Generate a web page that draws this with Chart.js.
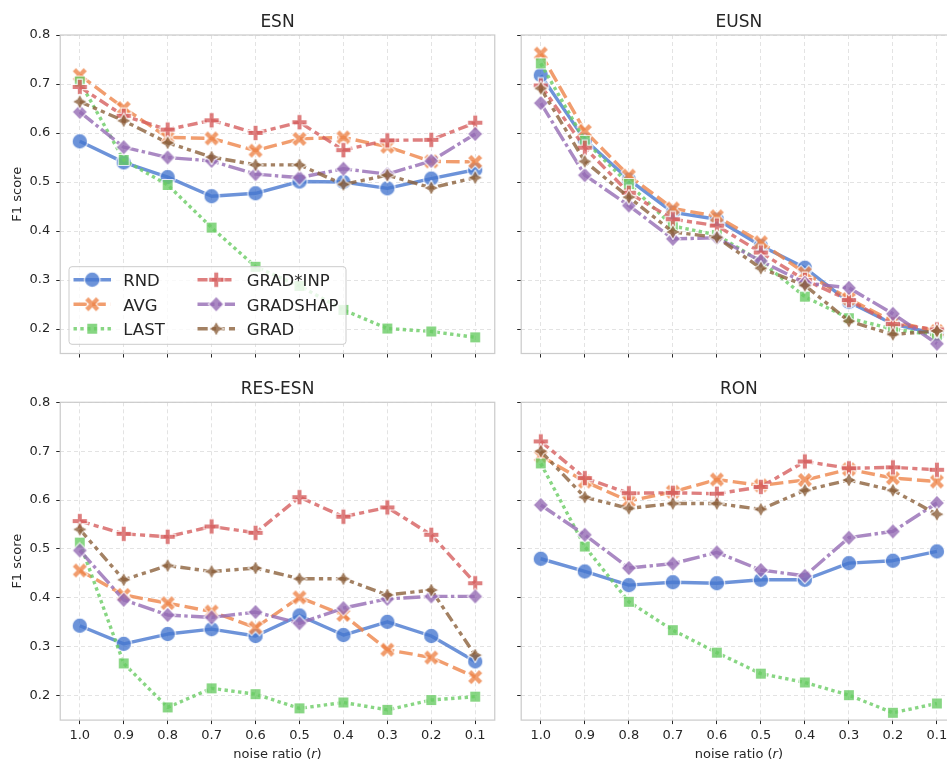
<!DOCTYPE html>
<html><head><meta charset="utf-8">
<script src="https://cdn.jsdelivr.net/npm/chart.js@4.4.1/dist/chart.umd.min.js"></script>
<style>
html,body{margin:0;padding:0;background:#fff;overflow:hidden;}
#wrap{position:relative;width:947px;height:761px;overflow:hidden;background:#fff;}
canvas{position:absolute;}
</style></head><body><div id="wrap">
<canvas id="c0" width="510" height="380" style="left:0;top:0"></canvas>
<canvas id="c1" width="470" height="380" style="left:510px;top:0"></canvas>
<canvas id="c2" width="510" height="391" style="left:0;top:370px"></canvas>
<canvas id="c3" width="470" height="391" style="left:510px;top:370px"></canvas>
</div>
<script>
// ---------------- data ----------------
const noiseRatios = [1.0, 0.9, 0.8, 0.7, 0.6, 0.5, 0.4, 0.3, 0.2, 0.1];
const xTickValues = [1.0, 0.9, 0.8, 0.7, 0.6, 0.5, 0.4, 0.3, 0.2, 0.1];
const yTickValues = [0.2, 0.3, 0.4, 0.5, 0.6, 0.7, 0.8];
const methodNames = ['RND', 'AVG', 'LAST', 'GRAD*INP', 'GRADSHAP', 'GRAD'];
const panelTitles = ['ESN', 'EUSN', 'RES-ESN', 'RON'];

const esnRND      = [0.583, 0.540, 0.510, 0.471, 0.477, 0.501, 0.500, 0.487, 0.507, 0.525];
const esnAVG      = [0.718, 0.651, 0.591, 0.589, 0.564, 0.588, 0.591, 0.572, 0.542, 0.541];
const esnLAST     = [0.705, 0.545, 0.494, 0.407, 0.327, 0.288, 0.239, 0.201, 0.195, 0.183];
const esnGRADINP  = [0.694, 0.635, 0.607, 0.626, 0.600, 0.622, 0.565, 0.585, 0.586, 0.621];
const esnGRADSHAP = [0.643, 0.571, 0.550, 0.543, 0.516, 0.509, 0.527, 0.516, 0.543, 0.598];
const esnGRAD     = [0.664, 0.625, 0.580, 0.551, 0.535, 0.535, 0.495, 0.514, 0.488, 0.509];

const eusnRND      = [0.718, 0.586, 0.505, 0.438, 0.424, 0.370, 0.325, 0.255, 0.210, 0.190];
const eusnAVG      = [0.762, 0.604, 0.513, 0.446, 0.430, 0.377, 0.314, 0.262, 0.215, 0.196];
const eusnLAST     = [0.742, 0.584, 0.496, 0.410, 0.392, 0.338, 0.266, 0.222, 0.200, 0.187];
const eusnGRADINP  = [0.697, 0.570, 0.478, 0.424, 0.411, 0.356, 0.300, 0.259, 0.210, 0.199];
const eusnGRADSHAP = [0.661, 0.514, 0.452, 0.384, 0.386, 0.339, 0.294, 0.284, 0.231, 0.170];
const eusnGRAD     = [0.691, 0.542, 0.469, 0.398, 0.387, 0.324, 0.289, 0.216, 0.189, 0.196];

const resRND      = [0.343, 0.306, 0.326, 0.336, 0.322, 0.364, 0.324, 0.351, 0.322, 0.270];
const resAVG      = [0.456, 0.406, 0.389, 0.372, 0.339, 0.401, 0.365, 0.294, 0.278, 0.238];
const resLAST     = [0.513, 0.266, 0.176, 0.215, 0.203, 0.174, 0.186, 0.171, 0.191, 0.198];
const resGRADINP  = [0.557, 0.531, 0.525, 0.546, 0.533, 0.606, 0.566, 0.585, 0.529, 0.430];
const resGRADSHAP = [0.497, 0.396, 0.365, 0.360, 0.371, 0.348, 0.379, 0.398, 0.403, 0.403];
const resGRAD     = [0.540, 0.437, 0.466, 0.454, 0.461, 0.439, 0.439, 0.406, 0.416, 0.283];

const ronRND      = [0.480, 0.454, 0.426, 0.432, 0.430, 0.437, 0.437, 0.471, 0.476, 0.495];
const ronAVG      = [0.690, 0.638, 0.598, 0.617, 0.642, 0.630, 0.641, 0.663, 0.645, 0.638];
const ronLAST     = [0.675, 0.505, 0.392, 0.334, 0.288, 0.245, 0.227, 0.201, 0.165, 0.184];
const ronGRADINP  = [0.720, 0.645, 0.614, 0.615, 0.613, 0.627, 0.679, 0.665, 0.667, 0.662];
const ronGRADSHAP = [0.590, 0.529, 0.461, 0.470, 0.493, 0.457, 0.445, 0.523, 0.536, 0.594];
const ronGRAD     = [0.700, 0.606, 0.583, 0.593, 0.593, 0.581, 0.620, 0.641, 0.620, 0.571];

const panelSeries = [
  [esnRND, esnAVG, esnLAST, esnGRADINP, esnGRADSHAP, esnGRAD],
  [eusnRND, eusnAVG, eusnLAST, eusnGRADINP, eusnGRADSHAP, eusnGRAD],
  [resRND, resAVG, resLAST, resGRADINP, resGRADSHAP, resGRAD],
  [ronRND, ronAVG, ronLAST, ronGRADINP, ronGRADSHAP, ronGRAD]
];

// ---------------- styles ----------------
const FONT = '"DejaVu Sans", "Liberation Sans", sans-serif';
const TEXT = '#262626';
const LW = 3.4;
const rgb = [[72,120,208],[238,133,74],[106,204,100],[214,95,95],[149,108,180],[140,97,60]];
const dashUnits = [[], [4,1.5], [1,1], [3,1.25,1.5,1.25], [5,1,1,1], [3,1.25,1.25,1.25,1.25,1.25]];
const shapes = ['circle','x','square','plus','diamond','star'];
const col = (i,a) => `rgba(${rgb[i][0]},${rgb[i][1]},${rgb[i][2]},${a})`;

function makeMarker(shape, i) {
  const S = 24, c = S / 2, s = 7.8;
  const base = document.createElement('canvas'); base.width = base.height = S;
  const g = base.getContext('2d');
  g.beginPath();
  const poly = (pts, k) => { pts.forEach((p, j) => { const X = c + p[0]*k, Y = c + p[1]*k; j ? g.lineTo(X, Y) : g.moveTo(X, Y); }); g.closePath(); };
  if (shape === 'circle') g.arc(c, c, s, 0, Math.PI*2);
  else if (shape === 'x') poly([[-1,-2],[0,-1],[1,-2],[2,-1],[1,0],[2,1],[1,2],[0,1],[-1,2],[-2,1],[-1,0],[-2,-1]], s/2);
  else if (shape === 'plus') poly([[-1,-3],[1,-3],[1,-1],[3,-1],[3,1],[1,1],[1,3],[-1,3],[-1,1],[-3,1],[-3,-1],[-1,-1]], s/3);
  else if (shape === 'square') { const h = s/Math.SQRT2; poly([[-h,-h],[h,-h],[h,h],[-h,h]], 1); }
  else if (shape === 'diamond') poly([[0,-s],[s,0],[0,s],[-s,0]], 1);
  else if (shape === 'star') {
    const pts = [];
    for (let k = 0; k < 8; k++) { const r = k % 2 ? s/2 : s; const a = -Math.PI/2 + k*Math.PI/4; pts.push([r*Math.cos(a), r*Math.sin(a)]); }
    poly(pts, 1);
  }
  g.fillStyle = col(i, 1); g.fill();
  g.lineWidth = 1.2; g.strokeStyle = '#ffffff'; g.lineJoin = shape === 'star' ? 'bevel' : 'miter'; g.stroke();
  const out = document.createElement('canvas'); out.width = out.height = S;
  const o = out.getContext('2d'); o.globalAlpha = 0.8; o.drawImage(base, 0, 0);
  return out;
}
const markers = shapes.map((sh, i) => makeMarker(sh, i));

// ---------------- plugins ----------------
const overlayPlugin = {
  id: 'overlay',
  afterDatasetsDraw(chart, args, o) {
    const ctx = chart.ctx, ca = chart.chartArea;
    ctx.save();
    ctx.strokeStyle = '#cccccc'; ctx.lineWidth = 1.25; ctx.setLineDash([]);
    ctx.strokeRect(ca.left, ca.top, ca.right - ca.left, ca.bottom - ca.top);
    if (o.legend) {
      const bx = ca.left + 8.75, by = ca.bottom - 86.8, bw = 277, bh = 77.6, r = 3;
      ctx.beginPath();
      ctx.moveTo(bx + r, by); ctx.lineTo(bx + bw - r, by); ctx.arcTo(bx + bw, by, bx + bw, by + r, r);
      ctx.lineTo(bx + bw, by + bh - r); ctx.arcTo(bx + bw, by + bh, bx + bw - r, by + bh, r);
      ctx.lineTo(bx + r, by + bh); ctx.arcTo(bx, by + bh, bx, by + bh - r, r);
      ctx.lineTo(bx, by + r); ctx.arcTo(bx, by, bx + r, by, r); ctx.closePath();
      ctx.fillStyle = 'rgba(255,255,255,0.8)'; ctx.fill();
      ctx.strokeStyle = '#cccccc'; ctx.lineWidth = 1; ctx.stroke();
      ctx.font = '16.5px ' + FONT; ctx.fillStyle = TEXT; ctx.textAlign = 'left'; ctx.textBaseline = 'alphabetic';
      chart.data.datasets.forEach((ds, i) => {
        const colIdx = Math.floor(i / 3), row = i % 3;
        const hx = bx + 4.5 + colIdx * 124, cy = by + 13 + row * 24.5, hl = 37.5;
        ctx.save();
        ctx.strokeStyle = ds.borderColor; ctx.lineWidth = LW; ctx.lineCap = 'butt';
        ctx.setLineDash(ds.borderDash);
        ctx.beginPath(); ctx.moveTo(hx, cy); ctx.lineTo(hx + hl, cy); ctx.stroke();
        ctx.restore();
        const m = ds.pointStyle;
        ctx.drawImage(m, hx + hl/2 - m.width/2, cy - m.height/2);
        ctx.fillStyle = TEXT;
        ctx.fillText(ds.label, bx + 54.3 + colIdx * 123.4, cy + 6.3);
      });
    }
    ctx.restore();
  },
  afterDraw(chart, args, o) {
    const ctx = chart.ctx, ca = chart.chartArea;
    ctx.save();
    ctx.fillStyle = TEXT; ctx.setLineDash([]);
    ctx.font = '17px ' + FONT; ctx.textAlign = 'center'; ctx.textBaseline = 'alphabetic';
    ctx.fillText(o.title, (ca.left + ca.right) / 2, ca.top - o.titleGap);
    ctx.font = '13px ' + FONT;
    if (o.yLabel) {
      ctx.save();
      ctx.translate(21.2, (ca.top + ca.bottom) / 2);
      ctx.rotate(-Math.PI / 2);
      ctx.textAlign = 'center';
      ctx.fillText('F1 score', 0, 0);
      ctx.restore();
    }
    if (o.xLabel) {
      const p1 = 'noise ratio (', p2 = 'r', p3 = ')';
      ctx.font = '13px ' + FONT; const w1 = ctx.measureText(p1).width, w3 = ctx.measureText(p3).width;
      ctx.font = 'italic 13px ' + FONT; const w2 = ctx.measureText(p2).width;
      let x = (ca.left + ca.right) / 2 - (w1 + w2 + w3) / 2;
      ctx.textAlign = 'left';
      ctx.font = '13px ' + FONT; ctx.fillText(p1, x, o.xLabelY); x += w1;
      ctx.font = 'italic 13px ' + FONT; ctx.fillText(p2, x, o.xLabelY); x += w2;
      ctx.font = '13px ' + FONT; ctx.fillText(p3, x, o.xLabelY);
    }
    ctx.restore();
  }
};

// ---------------- charts ----------------
Chart.defaults.font.family = FONT;
Chart.defaults.color = TEXT;

const panelLayout = [
  {yW: 60.25, xH: 26.5, padTop: 35,   padRight: 510 - 494.75, showY: true,  showX: false, legend: true,  gap: 7.7, xLabel: false},
  {yW: 11.2,  xH: 26.5, padTop: 35,   padRight: 470 - 446.5,  showY: false, showX: false, legend: false, gap: 7.7, xLabel: false},
  {yW: 60.25, xH: 40.9, padTop: 32.3, padRight: 510 - 494.75, showY: true,  showX: true,  legend: false, gap: 8.3, xLabel: true},
  {yW: 11.2,  xH: 40.9, padTop: 32.3, padRight: 470 - 446.5,  showY: false, showX: true,  legend: false, gap: 8.3, xLabel: true}
];

panelSeries.forEach((series, p) => {
  const L = panelLayout[p];
  const datasets = series.map((vals, i) => ({
    label: methodNames[i],
    data: noiseRatios.map((x, k) => ({x: x, y: vals[k]})),
    borderColor: col(i, 0.8),
    backgroundColor: col(i, 0.8),
    borderWidth: LW,
    borderDash: dashUnits[i].map(v => v * LW),
    borderCapStyle: 'butt',
    borderJoinStyle: 'round',
    pointStyle: markers[i],
    pointRadius: 7,
    pointHoverRadius: 7,
    fill: false,
    tension: 0,
    order: 6 - i
  }));
  const gridCommon = {color: '#e0e0e0', lineWidth: 0.9, tickColor: '#262626', tickLength: 4, tickWidth: 1, drawTicks: true};
  new Chart(document.getElementById('c' + p), {
    type: 'line',
    data: {datasets},
    options: {
      responsive: false,
      animation: false,
      devicePixelRatio: 1,
      events: [],
      layout: {padding: {top: L.padTop, right: L.padRight, left: 0, bottom: 0}},
      plugins: {
        legend: {display: false},
        tooltip: {enabled: false},
        overlay: {title: panelTitles[p], titleGap: L.gap, legend: L.legend, yLabel: L.showY, xLabel: L.xLabel, xLabelY: 388}
      },
      scales: {
        x: {
          type: 'linear', reverse: true, min: 0.0555, max: 1.0445,
          afterBuildTicks: ax => { ax.ticks = xTickValues.map(v => ({value: v})); },
          afterFit: ax => { ax.height = L.xH; },
          ticks: {display: L.showX, autoSkip: false, maxRotation: 0, padding: 4, font: {size: 13}, color: TEXT, callback: v => Number(v).toFixed(1)},
          grid: gridCommon,
          border: {display: false, dash: [4, 3]}
        },
        y: {
          type: 'linear', min: 0.15, max: 0.8,
          afterBuildTicks: ax => { ax.ticks = yTickValues.map(v => ({value: v})); },
          afterFit: ax => { ax.width = L.yW; },
          ticks: {display: L.showY, padding: 6, font: {size: 13}, color: TEXT, callback: v => Number(v).toFixed(1)},
          grid: gridCommon,
          border: {display: false, dash: [4, 3]}
        }
      }
    },
    plugins: [overlayPlugin]
  });
});
</script>
</body></html>
